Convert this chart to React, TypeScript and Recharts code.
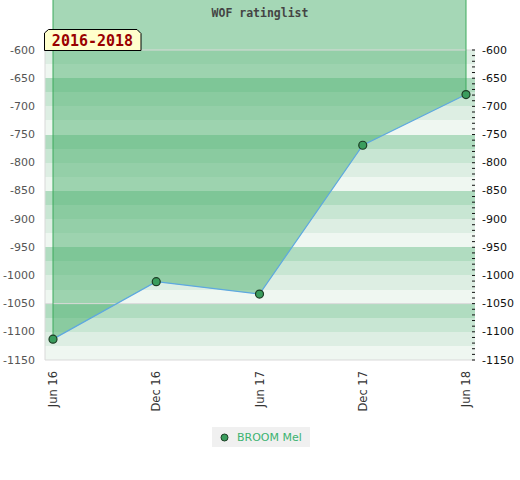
import React from 'react';
import {
  ComposedChart,
  Area,
  Line,
  XAxis,
  YAxis,
  CartesianGrid,
  ReferenceLine,
  Legend,
} from 'recharts';

// ---- data ----
const months = ['Jun 16', 'Dec 16', 'Jun 17', 'Dec 17', 'Jun 18'];
const ratings = [-1113, -1011, -1033, -769, -679];
const seriesName = 'BROOM Mel';
const chartTitle = 'WOF ratinglist';
const periodLabel = '2016-2018';

const yMin = -1150;
const yMax = -600;
const areaCeiling = -500; // fill extends above the plot
const majorTicks = [-600, -650, -700, -750, -800, -850, -900, -950, -1000, -1050, -1100, -1150];
const stripeTicks: number[] = [];
for (let v = yMax; v >= yMin; v -= 25) stripeTicks.push(v);
const minorTicks: number[] = [];
for (let v = yMax; v >= yMin; v -= 10) minorTicks.push(v);
const markerLines = [-600, -1050, -1150];

const data = months.map((m, i) => ({ month: m, rating: ratings[i] }));

const LeftTick = (props: any) => {
  const { x, y, payload } = props;
  if (!majorTicks.includes(payload.value)) return <g />;
  return (
    <text x={x} y={y} textAnchor="end" dominantBaseline="central" fill="#555" fontSize={11}>
      {payload.value}
    </text>
  );
};

const RightTick = (props: any) => {
  const { x, y, payload } = props;
  const major = majorTicks.includes(payload.value);
  return (
    <g>
      <line x1={x - 3} x2={x} y1={y} y2={y} stroke="#111" strokeWidth={1} />
      {major && (
        <text x={x + 7} y={y} textAnchor="start" dominantBaseline="central" fill="#111" fontSize={11}>
          {payload.value}
        </text>
      )}
    </g>
  );
};

const XTick = (props: any) => {
  const { x, y, payload } = props;
  return (
    <text
      x={x}
      y={y}
      transform={`rotate(-90 ${x} ${y})`}
      textAnchor="end"
      dominantBaseline="central"
      fill="#333"
      fontSize={11.5}
    >
      {payload.value}
    </text>
  );
};

const LegendContent = (props: any) => {
  const items = (props.payload || []).filter((p: any) => p.type !== 'none');
  return (
    <div style={{ display: 'flex', justifyContent: 'center' }}>
      {items.map((it: any) => (
        <div
          key={it.value}
          style={{
            background: '#f0f0f0',
            height: 20,
            width: 98,
            display: 'flex',
            alignItems: 'center',
            boxSizing: 'border-box',
            paddingLeft: 8,
            marginLeft: 2,
          }}
        >
          <svg width={9} height={9} style={{ display: 'block' }}>
            <circle cx={4.5} cy={4.5} r={3.5} fill="#3a9d5d" stroke="#1d3d25" strokeWidth={1} />
          </svg>
          <span style={{ color: '#3cb371', fontSize: 11, marginLeft: 8, fontFamily: 'DejaVu Sans' }}>
            {it.value}
          </span>
        </div>
      ))}
    </div>
  );
};

export default function App() {
  return (
    <div style={{ position: 'absolute', left: 0, top: 0, width: 520, height: 480, background: '#fff', fontFamily: 'DejaVu Sans' }}>
      <ComposedChart
        width={520}
        height={480}
        data={data}
        margin={{ top: 50, right: 0, bottom: 0, left: 0 }}
      >
        <CartesianGrid
          vertical={false}
          horizontal={true}
          stroke="none"
          fillOpacity={1}
          horizontalFill={['#ddeee3', '#eff7f1', '#b0dcc0', '#c8e6d3']}
        />
        <XAxis
          dataKey="month"
          type="category"
          height={120}
          padding={{ left: 8, right: 9 }}
          axisLine={false}
          tickLine={false}
          tickSize={0}
          tickMargin={11}
          interval={0}
          tick={<XTick />}
        />
        <YAxis
          type="number"
          domain={[yMin, yMax]}
          ticks={stripeTicks}
          interval={0}
          width={45}
          axisLine={{ stroke: '#d9d9d9' }}
          tickLine={false}
          tickSize={0}
          tickMargin={10}
          tick={<LeftTick />}
        />
        <YAxis
          yAxisId="r"
          orientation="right"
          type="number"
          domain={[yMin, yMax]}
          ticks={minorTicks}
          interval={0}
          width={45}
          axisLine={false}
          tickLine={false}
          tickSize={0}
          tickMargin={0}
          tick={<RightTick />}
        />
        {markerLines.map((v) => (
          <ReferenceLine key={v} y={v} stroke="#d9d9d9" strokeWidth={1} />
        ))}
        <Area
          dataKey="rating"
          baseValue={areaCeiling}
          fill="#4caf6e"
          fillOpacity={0.5}
          stroke="none"
          legendType="none"
          isAnimationActive={false}
          dot={false}
          activeDot={false}
        />
        <ReferenceLine
          segment={[
            { x: months[0], y: areaCeiling },
            { x: months[0], y: ratings[0] },
          ]}
          stroke="#3daa5c"
          ifOverflow="visible"
        />
        <ReferenceLine
          segment={[
            { x: months[months.length - 1], y: areaCeiling },
            { x: months[months.length - 1], y: ratings[ratings.length - 1] },
          ]}
          stroke="#3daa5c"
          ifOverflow="visible"
        />
        <Line
          yAxisId="r"
          dataKey="rating"
          stroke="none"
          dot={false}
          activeDot={false}
          legendType="none"
          isAnimationActive={false}
        />
        <Line
          dataKey="rating"
          name={seriesName}
          stroke="#5ea8e0"
          strokeWidth={1.2}
          dot={{ r: 4, fill: '#3a9d5d', stroke: '#1d3d25', strokeWidth: 1.2 }}
          activeDot={false}
          isAnimationActive={false}
        />
        <Legend
          layout="horizontal"
          verticalAlign="middle"
          align="center"
          content={<LegendContent />}
          wrapperStyle={{ top: 427, left: 0, width: 520 }}
        />
      </ComposedChart>
      <svg
        width={520}
        height={480}
        style={{ position: 'absolute', left: 0, top: 0, pointerEvents: 'none' }}
      >
        <text
          x={260}
          y={16.5}
          textAnchor="middle"
          fontFamily="DejaVu Sans Mono"
          fontWeight="bold"
          fontSize={11.5}
          fill="#444"
        >
          {chartTitle}
        </text>
        <polygon
          points="44.5,50.5 44.5,33 48.5,29.5 137,29.5 141,33.5 141,50.5"
          fill="#ffffcc"
          stroke="#000"
          strokeWidth={1}
        />
        <text
          x={92.5}
          y={45.5}
          textAnchor="middle"
          fontFamily="DejaVu Sans Mono"
          fontWeight="bold"
          fontSize={15}
          fill="#990000"
        >
          {periodLabel}
        </text>
      </svg>
    </div>
  );
}
